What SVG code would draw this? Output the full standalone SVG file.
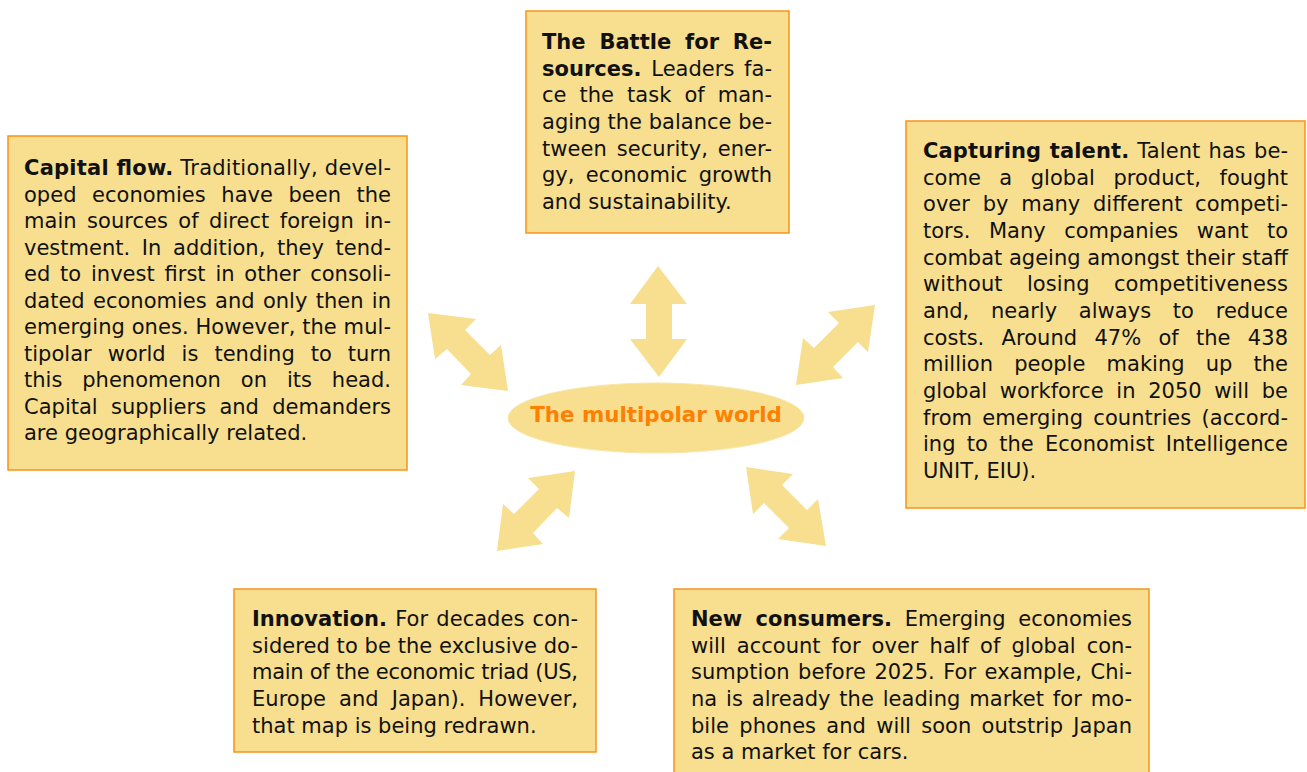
<svg xmlns="http://www.w3.org/2000/svg" width="1307" height="772" viewBox="0 0 1307 772">
  <style>
    .box { fill: #f7df8f; stroke: #f7941d; stroke-width: 1.5; }
    .arrow { fill: #f7df8f; stroke: none; }
    .body { font-family: "DejaVu Sans", Verdana, sans-serif; font-size: 21px; fill: #111111; }
    .b { font-weight: bold; }
    .hub { fill: #f7df8f; stroke: #f9e6a6; stroke-width: 1; }
    .hub-text { font-family: "DejaVu Sans", Verdana, sans-serif; font-size: 21.4px; font-weight: bold; fill: #ff8000; }
  </style>
  <rect width="1307" height="772" fill="#ffffff"/>

  <!-- double-headed arrows around the hub -->
  <g id="connectors">
    <polygon class="arrow" points="658,266 687,304 672,304 672,339 687,339 659,377 630,339 646,339 646,304 630,304"/>
    <polygon class="arrow" points="428,313 476,319 465,330 490,355 501,345 508,391 461,385 471,374 447,349 435,359"/>
    <polygon class="arrow" points="875,305 828,312 839,323 814,348 803,338 796,385 843,378 833,367 858,342 868,352"/>
    <polygon class="arrow" points="575,471 528,478 539,489 514,514 503,504 497,551 543,544 533,533 557,508 569,518"/>
    <polygon class="arrow" points="746,467 793,474 782,485 807,510 818,499 826,546 778,539 789,528 764,503 753,514"/>
  </g>

  <g id="hub">
    <ellipse class="hub" cx="656" cy="418" rx="148" ry="35"/>
    <text class="hub-text" x="656" y="422" text-anchor="middle">The multipolar world</text>
  </g>

  <!-- justified paragraphs: word-spacing opens the gaps, textLength trims the rest -->
  <g id="capital-flow">
    <rect class="box" x="8" y="136" width="399" height="334"/>
    <g class="body">
      <text x="24" y="175" textLength="367" lengthAdjust="spacing"><tspan class="b">Capital flow.</tspan> Traditionally, devel-</text>
      <text x="24" y="201.5" word-spacing="8.9" textLength="367" lengthAdjust="spacing">oped economies have been the</text>
      <text x="24" y="228" word-spacing="3.6" textLength="367" lengthAdjust="spacing">main sources of direct foreign in-</text>
      <text x="24" y="254.5" word-spacing="5" textLength="367" lengthAdjust="spacing">vestment. In addition, they tend-</text>
      <text x="24" y="281" word-spacing="3.1" textLength="367" lengthAdjust="spacing">ed to invest first in other consoli-</text>
      <text x="24" y="307.5" word-spacing="1.7" textLength="367" lengthAdjust="spacing">dated economies and only then in</text>
      <text x="24" y="334" textLength="367" lengthAdjust="spacing">emerging ones. However, the mul-</text>
      <text x="24" y="360.5" word-spacing="9.3" textLength="367" lengthAdjust="spacing">tipolar world is tending to turn</text>
      <text x="24" y="387" word-spacing="13.2" textLength="367" lengthAdjust="spacing">this phenomenon on its head.</text>
      <text x="24" y="413.5" word-spacing="6.6" textLength="367" lengthAdjust="spacing">Capital suppliers and demanders</text>
      <text x="24" y="440">are geographically related.</text>
    </g>
  </g>

  <g id="battle-for-resources">
    <rect class="box" x="526" y="11" width="263" height="222"/>
    <g class="body">
      <text x="542" y="49" word-spacing="6.5" textLength="230" lengthAdjust="spacing"><tspan class="b">The Battle for Re-</tspan></text>
      <text x="542" y="75.7" word-spacing="3" textLength="230" lengthAdjust="spacing"><tspan class="b">sources.</tspan> Leaders fa-</text>
      <text x="542" y="102.3" word-spacing="6.4" textLength="230" lengthAdjust="spacing">ce the task of man-</text>
      <text x="542" y="129" textLength="230" lengthAdjust="spacing">aging the balance be-</text>
      <text x="542" y="155.7" word-spacing="3" textLength="230" lengthAdjust="spacing">tween security, ener-</text>
      <text x="542" y="182.3" word-spacing="4.6" textLength="230" lengthAdjust="spacing">gy, economic growth</text>
      <text x="542" y="209">and sustainability.</text>
    </g>
  </g>

  <g id="capturing-talent">
    <rect class="box" x="906" y="121" width="399" height="387"/>
    <g class="body">
      <text x="923" y="158" word-spacing="1.2" textLength="365" lengthAdjust="spacing"><tspan class="b">Capturing talent.</tspan> Talent has be-</text>
      <text x="923" y="184.7" word-spacing="11.8" textLength="365" lengthAdjust="spacing">come a global product, fought</text>
      <text x="923" y="211.3" word-spacing="6" textLength="365" lengthAdjust="spacing">over by many different competi-</text>
      <text x="923" y="238" word-spacing="11.8" textLength="365" lengthAdjust="spacing">tors. Many companies want to</text>
      <text x="923" y="264.7" textLength="365" lengthAdjust="spacing">combat ageing amongst their staff</text>
      <text x="923" y="291.3" word-spacing="17.5" textLength="365" lengthAdjust="spacing">without losing competitiveness</text>
      <text x="923" y="318" word-spacing="15" textLength="365" lengthAdjust="spacing">and, nearly always to reduce</text>
      <text x="923" y="344.7" word-spacing="10.6" textLength="365" lengthAdjust="spacing">costs. Around 47% of the 438</text>
      <text x="923" y="371.3" word-spacing="14.5" textLength="365" lengthAdjust="spacing">million people making up the</text>
      <text x="923" y="398" word-spacing="6" textLength="365" lengthAdjust="spacing">global workforce in 2050 will be</text>
      <text x="923" y="424.7" word-spacing="3.6" textLength="365" lengthAdjust="spacing">from emerging countries (accord-</text>
      <text x="923" y="451.3" word-spacing="4.6" textLength="365" lengthAdjust="spacing">ing to the Economist Intelligence</text>
      <text x="923" y="478">UNIT, EIU).</text>
    </g>
  </g>

  <g id="innovation">
    <rect class="box" x="234" y="589" width="362" height="163"/>
    <g class="body">
      <text x="252" y="626" word-spacing="1.5" textLength="326" lengthAdjust="spacing"><tspan class="b">Innovation.</tspan> For decades con-</text>
      <text x="252" y="652.7" textLength="326" lengthAdjust="spacing">sidered to be the exclusive do-</text>
      <text x="252" y="679.4" textLength="326" lengthAdjust="spacing">main of the economic triad (US,</text>
      <text x="252" y="706.1" word-spacing="6.3" textLength="326" lengthAdjust="spacing">Europe and Japan). However,</text>
      <text x="252" y="733">that map is being redrawn.</text>
    </g>
  </g>

  <g id="new-consumers">
    <rect class="box" x="674" y="589" width="475" height="200"/>
    <g class="body">
      <text x="691" y="626" word-spacing="6" textLength="441" lengthAdjust="spacing"><tspan class="b">New consumers.</tspan> Emerging economies</text>
      <text x="691" y="652.7" word-spacing="4.4" textLength="441" lengthAdjust="spacing">will account for over half of global con-</text>
      <text x="691" y="679.3" word-spacing="1.7" textLength="441" lengthAdjust="spacing">sumption before 2025. For example, Chi-</text>
      <text x="691" y="706" word-spacing="2.1" textLength="441" lengthAdjust="spacing">na is already the leading market for mo-</text>
      <text x="691" y="732.7" word-spacing="3.6" textLength="441" lengthAdjust="spacing">bile phones and will soon outstrip Japan</text>
      <text x="691" y="759.3">as a market for cars.</text>
    </g>
  </g>
</svg>
